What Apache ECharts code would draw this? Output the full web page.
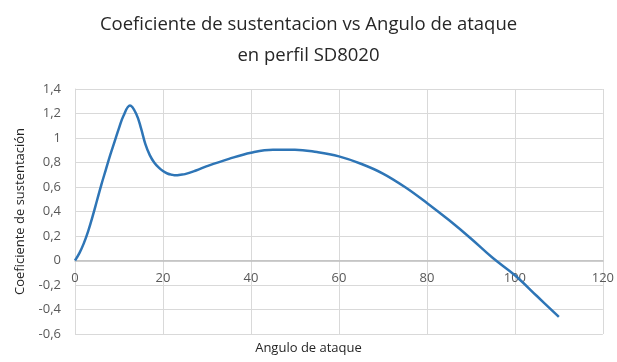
<!DOCTYPE html>
<html><head><meta charset="utf-8">
<script src="https://cdn.jsdelivr.net/npm/echarts@6/dist/echarts.min.js"></script>
<style>html,body{margin:0;padding:0;background:#fff}#c{width:617px;height:362px}</style>
</head><body><div id="c"></div>
<script>
const titleLines = ['Coeficiente de sustentacion vs Angulo de ataque', 'en perfil SD8020'];
const xName = 'Angulo de ataque';
const yName = 'Coeficiente de sustentación';
const angles = [0,1,2,3,4,5,6,7,8,9,10,11,12.5,14,15,16,17,18,19,20,21,22,23,24,25,27.5,30,35,40,45,50,55,60,65,70,75,80,85,90,95,100,105,110];
const cl = [0,0.06,0.14,0.24,0.36,0.49,0.62,0.74,0.86,0.97,1.08,1.18,1.265,1.19,1.08,0.95,0.86,0.80,0.76,0.73,0.71,0.70,0.695,0.70,0.705,0.735,0.77,0.83,0.88,0.905,0.905,0.885,0.85,0.79,0.71,0.60,0.47,0.33,0.18,0.02,-0.12,-0.29,-0.46];
const yMin = -0.6, yMax = 1.4, yStep = 0.2;
const xMin = 0, xMax = 120, xStep = 20;

const chart = echarts.init(document.getElementById('c'));
const font = '"Open Sans", "Liberation Sans", sans-serif';
const gridTop = 89, gridBottom = 28, H = 362;
const plotH = H - gridTop - gridBottom;
const zeroOffset = -plotH * (0 - yMin) / (yMax - yMin);
chart.setOption({
  animation: false,
  title: {
    text: titleLines.join('\n'), left: 'center', top: 4,
    textStyle: {fontFamily: font, fontSize: 18.5, fontWeight: 'normal', color: '#262626', lineHeight: 31}
  },
  grid: {left: 75, right: 13, top: gridTop, bottom: gridBottom},
  graphic: [{
    type: 'text', left: 'center', top: 342,
    style: {text: xName, font: '13px ' + font, fill: '#262626'}
  }],
  xAxis: {
    type: 'value', min: xMin, max: xMax, interval: xStep,
    offset: zeroOffset,
    axisLine: {onZero: false, lineStyle: {color: '#bfbfbf', width: 1.5}},
    axisTick: {show: false},
    axisLabel: {fontFamily: font, fontSize: 13, color: '#595959', margin: 11},
    splitLine: {show: true, lineStyle: {color: '#d9d9d9', width: 1}}
  },
  yAxis: {
    type: 'value', min: yMin, max: yMax, interval: yStep,
    name: yName, nameLocation: 'middle', nameGap: 48, nameRotate: 90,
    nameTextStyle: {fontFamily: font, fontSize: 13, color: '#262626'},
    axisLine: {show: true, lineStyle: {color: '#d9d9d9'}},
    axisTick: {show: false},
    axisLabel: {fontFamily: font, fontSize: 13, color: '#595959', margin: 14,
      formatter: v => (Math.round(v * 10) / 10).toString().replace('.', ',')},
    splitLine: {show: true, lineStyle: {color: '#d9d9d9', width: 1}}
  },
  series: [{
    type: 'line', data: angles.map((a, i) => [a, cl[i]]),
    smooth: 0.4, showSymbol: false,
    lineStyle: {color: '#2e75b6', width: 2.5}
  }]
});
</script></body></html>
